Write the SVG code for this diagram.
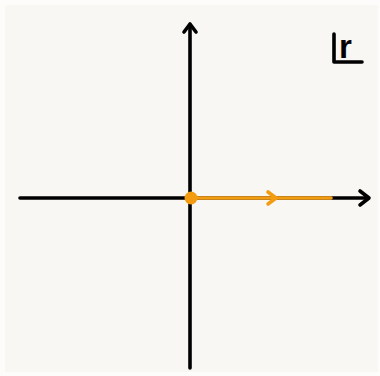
<svg xmlns="http://www.w3.org/2000/svg" width="380" height="376" viewBox="0 0 380 376">
<defs>
<style>
.axis{stroke:#000;stroke-width:3.6;fill:none;stroke-linecap:round;stroke-linejoin:round}
.ray{stroke:#f39c12;stroke-width:3.6;fill:none;stroke-linecap:round;stroke-linejoin:round}
.lbl{font-family:"Liberation Sans",Arial,sans-serif;font-weight:bold;font-size:33px;fill:#000}
</style>
</defs>
<rect x="0" y="0" width="380" height="376" fill="#fdfcfa"/>
<rect x="5" y="5" width="373" height="367" fill="#f9f7f3"/>
<g id="connectors">
<path class="axis" d="M20,198 L368,198"/>
<path class="axis" d="M360,191 L369,198 L360,205"/>
<path class="axis" d="M190,368 L190,25"/>
<path class="axis" d="M184,32 L190,24 L196,32"/>
<path class="ray" d="M191,198 L331,198"/>
<path class="ray" d="M268,192 L276,198 L268,204" stroke-width="4.2"/>
</g>
<g id="origin">
<circle cx="191" cy="198" r="6.5" fill="#f39c12"/>
</g>
<g id="label">
<path class="axis" d="M334,34 L334,62 L362,62" stroke-width="3.8"/>
<text class="lbl" x="339" y="58">r</text>
</g>
</svg>
